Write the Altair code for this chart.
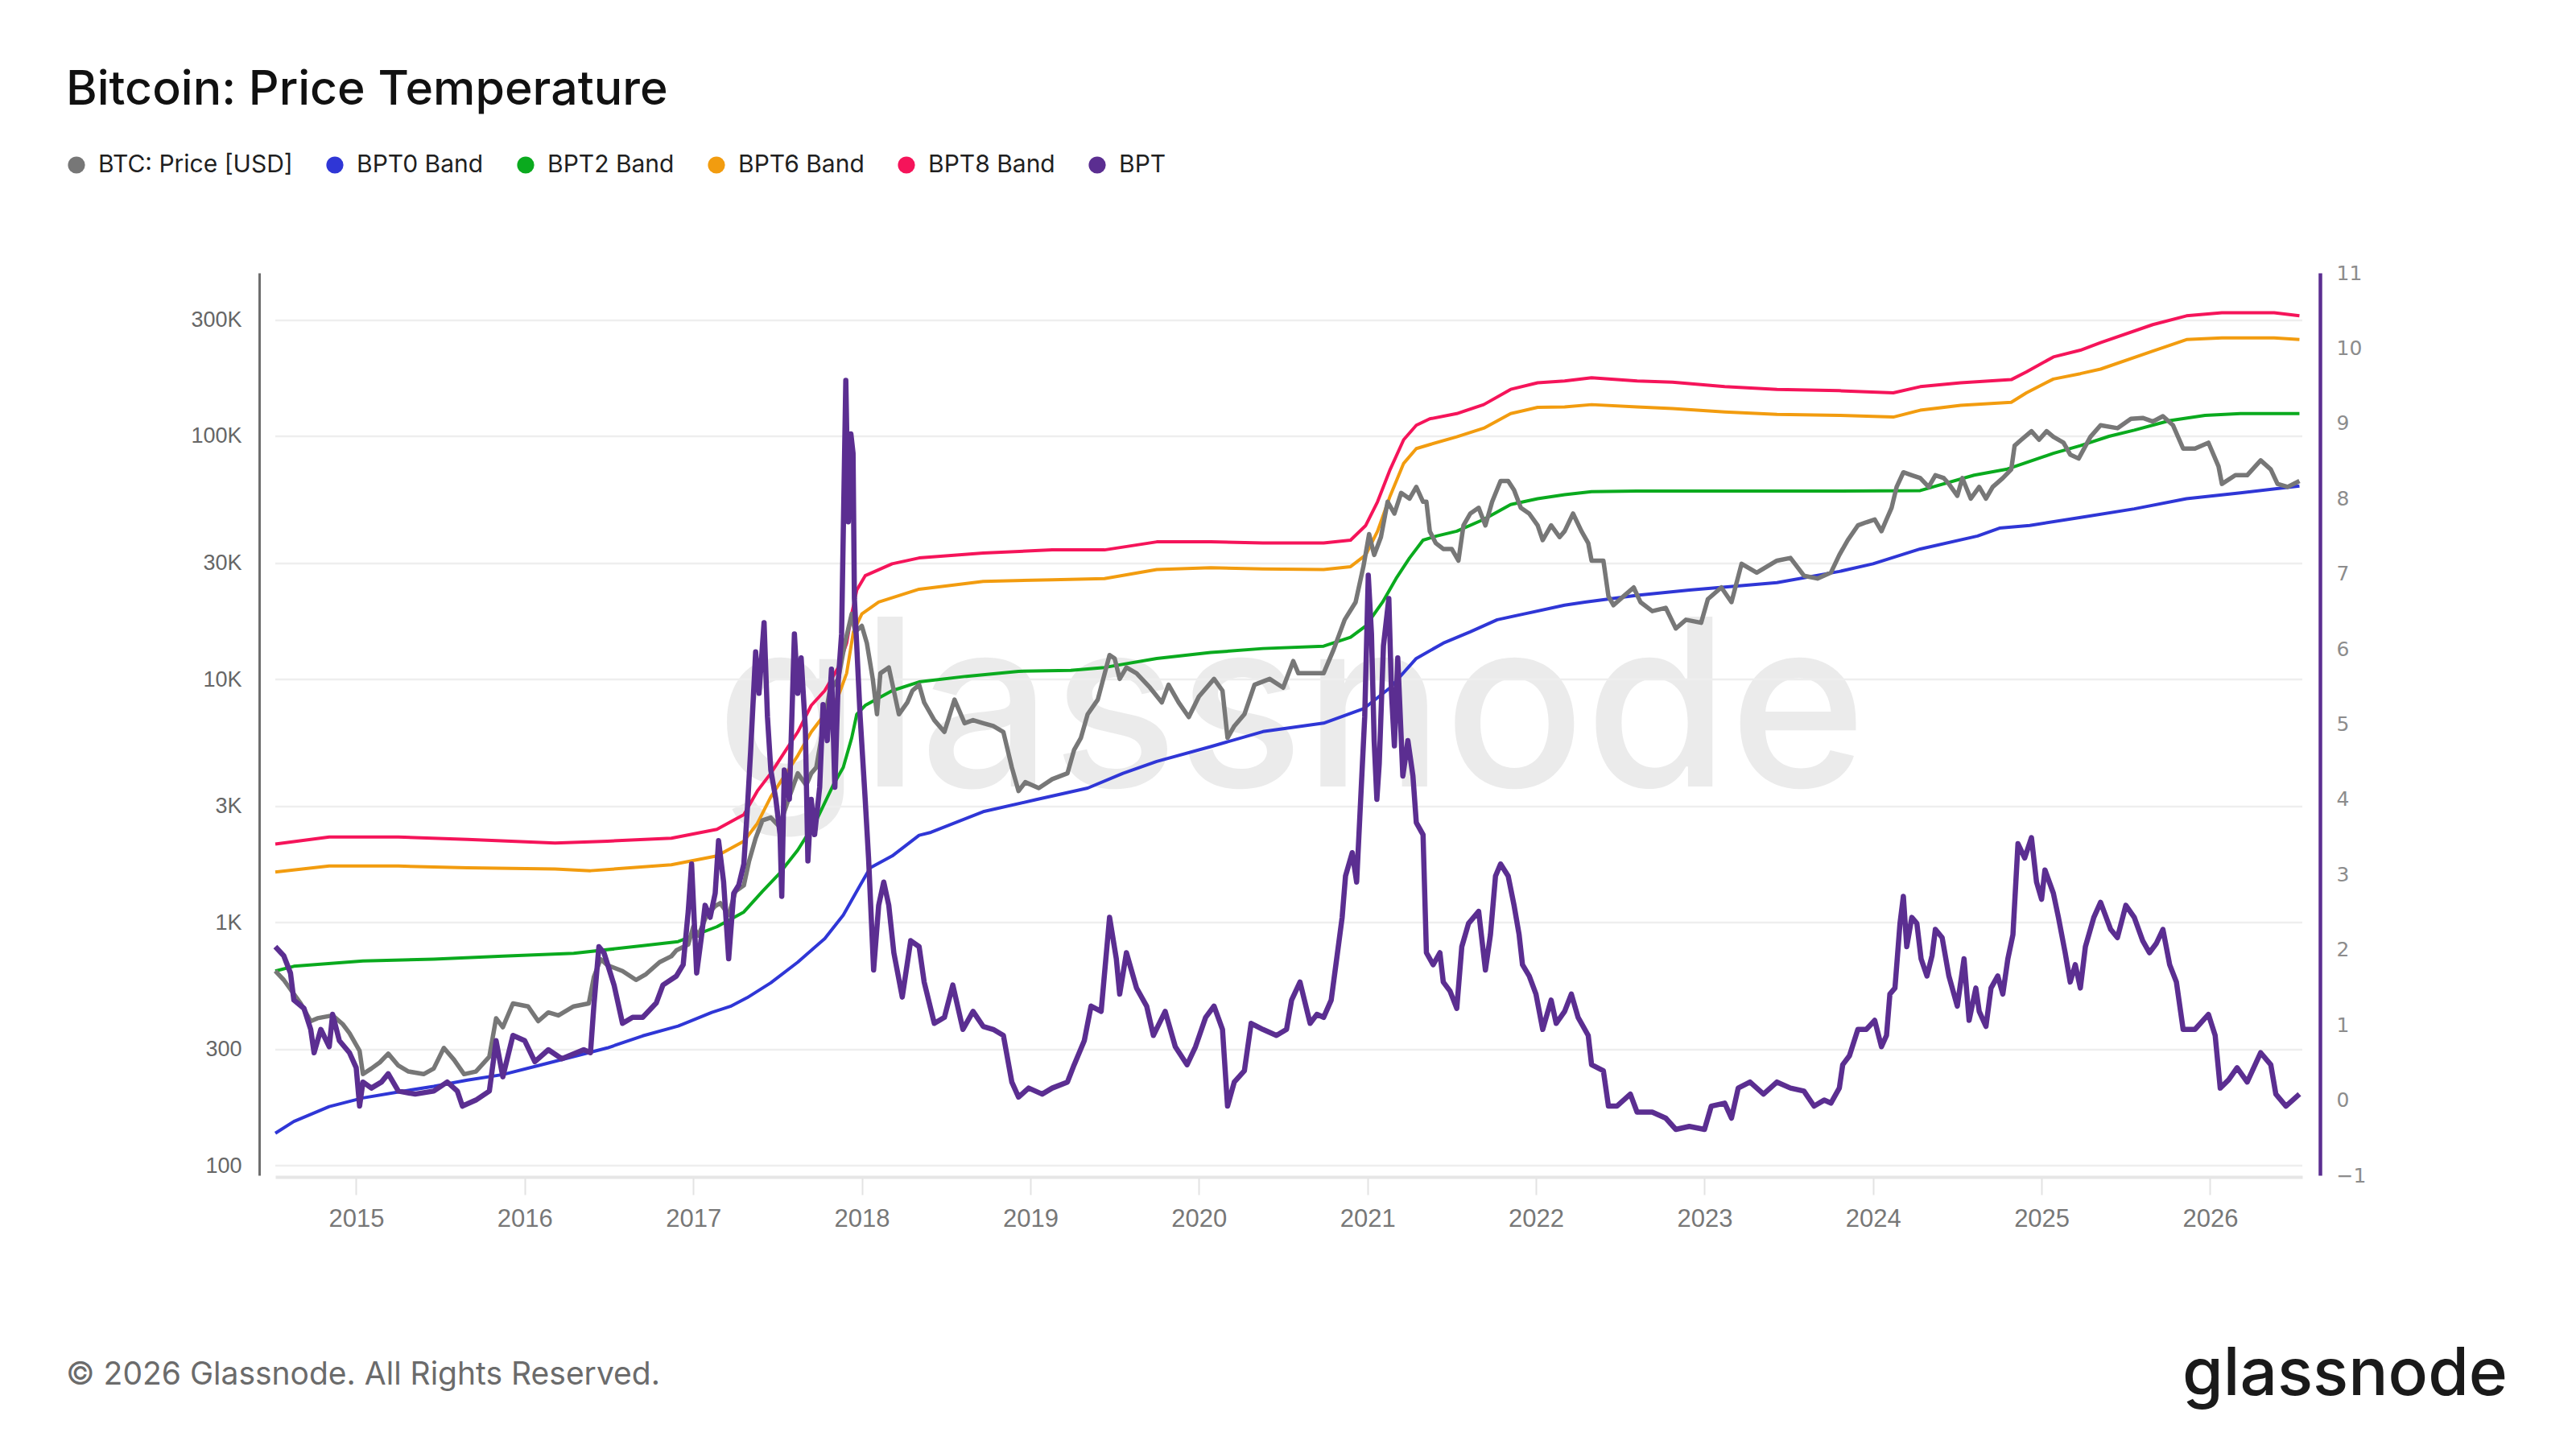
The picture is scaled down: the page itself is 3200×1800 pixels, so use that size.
import altair as alt
import pandas as pd

# ---------------- data ----------------
series_names = ["BTC: Price [USD]", "BPT0 Band", "BPT2 Band", "BPT6 Band", "BPT8 Band", "BPT"]
series_colors = ["#777777", "#2f36d6", "#0aaa1e", "#f29c0f", "#f5145a", "#5b2e91"]

# (decimal year, value) readings
band0_pts = [(2014.52, 136), (2014.63, 152), (2014.84, 175), (2015.04, 190), (2015.25, 201), (2015.46, 212),
             (2015.66, 225), (2015.87, 237), (2016.08, 258), (2016.29, 281), (2016.49, 305), (2016.70, 342),
             (2016.91, 375), (2017.11, 427), (2017.22, 452), (2017.32, 491), (2017.46, 565), (2017.62, 687),
             (2017.78, 859), (2017.89, 1074), (2017.99, 1422), (2018.05, 1679), (2018.18, 1879), (2018.34, 2286),
             (2018.41, 2350), (2018.72, 2858), (2019.03, 3198), (2019.34, 3573), (2019.55, 4111), (2019.75, 4600),
             (2020.07, 5290), (2020.38, 6100), (2020.74, 6610), (2020.98, 7600), (2021.135, 9250), (2021.29, 12200),
             (2021.45, 14100), (2021.61, 15700), (2021.77, 17600), (2021.93, 18600), (2022.17, 20200),
             (2022.29, 20800), (2022.60, 22200), (2022.91, 23300), (2023.22, 24300), (2023.43, 25000),
             (2023.80, 27800), (2024.00, 29900), (2024.28, 34400), (2024.62, 38900), (2024.75, 41900),
             (2024.93, 43000), (2025.24, 46500), (2025.55, 50300), (2025.86, 55400), (2026.18, 58500),
             (2026.53, 62500)]

band2_pts = [(2014.52, 632), (2014.63, 661), (2015.04, 695), (2015.46, 707), (2015.87, 727), (2016.29, 747),
             (2016.70, 803), (2016.91, 835), (2017.14, 961), (2017.30, 1105), (2017.41, 1343), (2017.51, 1589),
             (2017.62, 1987), (2017.73, 2630), (2017.83, 3675), (2017.89, 4350), (2017.94, 5750), (2017.97, 7190),
             (2018.02, 7820), (2018.18, 8990), (2018.34, 9770), (2018.62, 10300), (2018.93, 10800),
             (2019.24, 10900), (2019.44, 11200), (2019.75, 12200), (2020.07, 12900), (2020.38, 13400),
             (2020.74, 13700), (2020.90, 14900), (2020.99, 16600), (2021.09, 20800), (2021.17, 26000),
             (2021.25, 31600), (2021.33, 37400), (2021.41, 38900), (2021.53, 40700), (2021.69, 45500),
             (2021.85, 52400), (2022.01, 55400), (2022.17, 57500), (2022.33, 59200), (2022.60, 59500),
             (2023.02, 59500), (2023.43, 59500), (2023.80, 59500), (2024.28, 59800), (2024.60, 69200),
             (2024.79, 73100), (2025.07, 85100), (2025.23, 91500), (2025.40, 100000), (2025.55, 106000),
             (2025.76, 116000), (2025.97, 122000), (2026.18, 124000), (2026.53, 124000)]

band6_pts = [(2014.52, 1614), (2014.84, 1708), (2015.25, 1708), (2015.66, 1679), (2016.18, 1662), (2016.39, 1634),
             (2016.87, 1728), (2017.14, 1879), (2017.30, 2161), (2017.38, 2556), (2017.46, 3290), (2017.54, 4000),
             (2017.62, 4863), (2017.70, 6080), (2017.78, 7190), (2017.86, 8510), (2017.91, 10600), (2017.95, 15700),
             (2018.00, 18600), (2018.10, 20800), (2018.34, 23500), (2018.72, 25300), (2019.13, 25700),
             (2019.44, 26000), (2019.75, 28300), (2020.07, 28800), (2020.38, 28500), (2020.74, 28300),
             (2020.90, 29100), (2020.99, 32500), (2021.06, 40700), (2021.135, 56900), (2021.215, 77400),
             (2021.29, 89000), (2021.37, 92500), (2021.53, 99500), (2021.69, 108000), (2021.85, 124000),
             (2022.01, 131500), (2022.17, 132000), (2022.33, 135000), (2022.60, 132000), (2022.81, 130000),
             (2023.12, 126000), (2023.43, 123000), (2023.80, 122000), (2024.12, 120000), (2024.28, 128000),
             (2024.52, 134000), (2024.82, 138000), (2024.91, 151000), (2025.07, 172000), (2025.23, 181000),
             (2025.35, 189000), (2025.66, 224000), (2025.86, 250000), (2026.07, 254000), (2026.38, 254000),
             (2026.53, 250000)]

band8_pts = [(2014.52, 2102), (2014.84, 2249), (2015.25, 2249), (2015.66, 2198), (2016.18, 2125), (2016.49, 2161),
             (2016.87, 2223), (2017.14, 2418), (2017.30, 2780), (2017.38, 3475), (2017.46, 4110), (2017.54, 5000),
             (2017.62, 6080), (2017.70, 7820), (2017.78, 8990), (2017.86, 11200), (2017.91, 14100),
             (2017.94, 18600), (2017.97, 23300), (2018.02, 26700), (2018.18, 29900), (2018.34, 31600),
             (2018.72, 33100), (2019.13, 34100), (2019.44, 34100), (2019.75, 36800), (2020.07, 36800),
             (2020.38, 36400), (2020.74, 36400), (2020.90, 37400), (2020.99, 43000), (2021.06, 53800),
             (2021.135, 73100), (2021.215, 96800), (2021.29, 111000), (2021.37, 118000), (2021.53, 124000),
             (2021.69, 135000), (2021.85, 156000), (2022.01, 166000), (2022.17, 169000), (2022.33, 174000),
             (2022.60, 169000), (2022.81, 167000), (2023.12, 160000), (2023.43, 156000), (2023.80, 154000),
             (2024.12, 151000), (2024.28, 160000), (2024.52, 166000), (2024.82, 171000), (2024.91, 184000),
             (2025.07, 212000), (2025.23, 226000), (2025.35, 243000), (2025.66, 288000), (2025.86, 313000),
             (2026.07, 322000), (2026.38, 322000), (2026.53, 313000)]

price_pts = [(2014.52, 632), (2014.57, 581), (2014.67, 465), (2014.73, 393), (2014.77, 404), (2014.86, 415),
             (2014.92, 382), (2014.96, 351), (2015.02, 297), (2015.04, 238), (2015.09, 251), (2015.14, 266),
             (2015.19, 289), (2015.25, 258), (2015.31, 244), (2015.40, 238), (2015.46, 251), (2015.52, 305),
             (2015.58, 273), (2015.64, 238), (2015.71, 244), (2015.79, 281), (2015.83, 404), (2015.87, 371),
             (2015.93, 465), (2016.02, 452), (2016.08, 393), (2016.14, 427), (2016.20, 415), (2016.29, 452),
             (2016.38, 465), (2016.41, 597), (2016.45, 707), (2016.49, 668), (2016.58, 632), (2016.66, 581),
             (2016.72, 614), (2016.80, 687), (2016.87, 727), (2016.90, 769), (2016.97, 813), (2017.00, 961),
             (2017.03, 884), (2017.08, 1074), (2017.13, 1169), (2017.16, 1202), (2017.21, 1074), (2017.25, 1343),
             (2017.30, 1422), (2017.33, 1778), (2017.37, 2223), (2017.41, 2630), (2017.46, 2703), (2017.51, 2485),
             (2017.57, 3290), (2017.62, 4110), (2017.67, 3675), (2017.70, 4110), (2017.73, 4350), (2017.76, 5750),
             (2017.81, 8990), (2017.86, 10050), (2017.90, 14100), (2017.94, 18600), (2017.96, 15700),
             (2018.00, 16600), (2018.03, 14100), (2018.065, 10050), (2018.09, 7190), (2018.11, 10600),
             (2018.16, 11200), (2018.19, 8990), (2018.22, 7190), (2018.27, 8040), (2018.30, 8990), (2018.34, 9510),
             (2018.37, 8040), (2018.43, 6800), (2018.49, 6080), (2018.55, 8260), (2018.61, 6610), (2018.66, 6800),
             (2018.72, 6610), (2018.78, 6430), (2018.84, 6080), (2018.89, 4350), (2018.93, 3475), (2018.97, 3780),
             (2019.05, 3575), (2019.13, 3890), (2019.22, 4110), (2019.26, 5140), (2019.30, 5750), (2019.34, 7190),
             (2019.40, 8260), (2019.47, 12600), (2019.50, 12200), (2019.53, 10050), (2019.57, 11200),
             (2019.63, 10600), (2019.71, 9250), (2019.78, 8040), (2019.82, 9510), (2019.88, 8040), (2019.94, 7000),
             (2020.00, 8500), (2020.09, 10050), (2020.14, 8990), (2020.17, 5750), (2020.21, 6430), (2020.27, 7190),
             (2020.33, 9510), (2020.42, 10050), (2020.50, 9250), (2020.56, 11900), (2020.59, 10600),
             (2020.66, 10600), (2020.74, 10600), (2020.80, 13300), (2020.865, 17600), (2020.93, 20800),
             (2020.976, 29100), (2021.01, 39600), (2021.04, 32500), (2021.08, 38500), (2021.12, 53800),
             (2021.16, 48100), (2021.20, 58500), (2021.25, 55400), (2021.29, 61900), (2021.33, 53800),
             (2021.35, 53800), (2021.37, 40700), (2021.405, 36400), (2021.45, 34400), (2021.50, 34400),
             (2021.54, 30800), (2021.57, 43000), (2021.61, 48100), (2021.66, 50800), (2021.70, 43000),
             (2021.74, 53800), (2021.79, 65500), (2021.835, 65500), (2021.87, 60100), (2021.91, 50800),
             (2021.96, 48100), (2022.01, 43000), (2022.04, 37400), (2022.09, 43000), (2022.14, 38500),
             (2022.17, 40700), (2022.22, 48100), (2022.27, 40700), (2022.31, 36400), (2022.33, 30800),
             (2022.40, 30800), (2022.43, 22000), (2022.46, 20200), (2022.52, 22000), (2022.58, 23900),
             (2022.62, 20800), (2022.69, 19100), (2022.77, 19700), (2022.83, 16200), (2022.89, 17600),
             (2022.98, 17100), (2023.02, 21400), (2023.10, 23900), (2023.16, 20800), (2023.22, 29900),
             (2023.31, 27500), (2023.43, 30800), (2023.51, 31600), (2023.59, 26700), (2023.67, 26000),
             (2023.75, 27500), (2023.80, 32500), (2023.85, 37400), (2023.91, 43000), (2023.96, 44300),
             (2024.01, 45500), (2024.05, 40700), (2024.08, 45500), (2024.11, 50800), (2024.14, 61900),
             (2024.18, 71100), (2024.23, 69200), (2024.28, 67300), (2024.33, 61900), (2024.37, 69200),
             (2024.42, 67300), (2024.45, 63700), (2024.50, 56900), (2024.53, 67300), (2024.58, 55400),
             (2024.63, 61900), (2024.67, 55400), (2024.71, 61900), (2024.77, 67300), (2024.82, 73100),
             (2024.84, 91500), (2024.88, 96800), (2024.94, 105000), (2024.985, 96800), (2025.03, 105000),
             (2025.07, 99500), (2025.13, 94200), (2025.17, 84100), (2025.22, 81000), (2025.29, 99500),
             (2025.35, 111000), (2025.45, 108000), (2025.53, 118000), (2025.60, 119000), (2025.66, 115000),
             (2025.72, 121000), (2025.78, 111000), (2025.84, 89000), (2025.91, 89000), (2025.99, 94100),
             (2026.05, 75200), (2026.07, 63700), (2026.15, 69200), (2026.22, 69200), (2026.30, 79600),
             (2026.36, 73100), (2026.40, 63700), (2026.46, 61900), (2026.53, 65500)]

bpt_pts = [(2014.52, 2.04), (2014.57, 1.92), (2014.61, 1.69), (2014.63, 1.33), (2014.69, 1.22), (2014.73, 0.94),
           (2014.75, 0.63), (2014.79, 0.94), (2014.84, 0.71), (2014.86, 1.14), (2014.90, 0.79), (2014.96, 0.63),
           (2015.00, 0.43), (2015.02, -0.08), (2015.04, 0.24), (2015.09, 0.16), (2015.15, 0.24), (2015.19, 0.35),
           (2015.25, 0.12), (2015.35, 0.08), (2015.46, 0.12), (2015.54, 0.24), (2015.60, 0.12), (2015.63, -0.08),
           (2015.71, 0.00), (2015.79, 0.12), (2015.83, 0.79), (2015.87, 0.31), (2015.93, 0.86), (2016.00, 0.79),
           (2016.06, 0.51), (2016.14, 0.67), (2016.22, 0.55), (2016.35, 0.67), (2016.39, 0.63), (2016.41, 1.25),
           (2016.44, 2.04), (2016.47, 1.96), (2016.53, 1.53), (2016.58, 1.02), (2016.64, 1.10), (2016.70, 1.10),
           (2016.78, 1.29), (2016.82, 1.53), (2016.90, 1.65), (2016.94, 1.80), (2016.97, 2.51), (2016.99, 3.14),
           (2017.02, 1.69), (2017.05, 2.20), (2017.07, 2.59), (2017.10, 2.43), (2017.13, 2.75), (2017.15, 3.45),
           (2017.18, 2.90), (2017.21, 1.88), (2017.24, 2.75), (2017.27, 2.86), (2017.30, 3.14), (2017.32, 3.84),
           (2017.34, 4.63), (2017.37, 5.96), (2017.39, 5.41), (2017.42, 6.35), (2017.44, 5.10), (2017.46, 4.39),
           (2017.49, 4.00), (2017.515, 3.53), (2017.525, 2.71), (2017.54, 4.39), (2017.57, 4.00), (2017.60, 6.20),
           (2017.62, 5.41), (2017.64, 5.88), (2017.665, 4.94), (2017.68, 3.18), (2017.70, 4.00), (2017.72, 3.53),
           (2017.75, 4.16), (2017.77, 5.26), (2017.795, 4.78), (2017.82, 5.73), (2017.84, 4.16), (2017.86, 5.57),
           (2017.88, 6.20), (2017.905, 9.57), (2017.92, 7.69), (2017.935, 8.86), (2017.948, 8.60),
           (2017.956, 6.67), (2017.97, 6.04), (2017.99, 5.10), (2018.02, 4.00), (2018.04, 3.22), (2018.07, 1.73),
           (2018.10, 2.59), (2018.13, 2.90), (2018.16, 2.59), (2018.19, 1.96), (2018.24, 1.37), (2018.29, 2.12),
           (2018.34, 2.04), (2018.37, 1.57), (2018.43, 1.02), (2018.49, 1.10), (2018.54, 1.53), (2018.60, 0.94),
           (2018.66, 1.18), (2018.72, 0.98), (2018.78, 0.94), (2018.84, 0.86), (2018.89, 0.24), (2018.93, 0.04),
           (2018.99, 0.16), (2019.07, 0.08), (2019.13, 0.16), (2019.22, 0.24), (2019.26, 0.47), (2019.32, 0.79),
           (2019.36, 1.25), (2019.42, 1.18), (2019.47, 2.43), (2019.51, 1.88), (2019.53, 1.41), (2019.57, 1.96),
           (2019.63, 1.49), (2019.69, 1.25), (2019.73, 0.86), (2019.80, 1.18), (2019.86, 0.71), (2019.93, 0.47),
           (2019.98, 0.71), (2020.04, 1.10), (2020.09, 1.25), (2020.14, 0.94), (2020.17, -0.08), (2020.21, 0.24),
           (2020.27, 0.39), (2020.31, 1.02), (2020.38, 0.94), (2020.46, 0.86), (2020.52, 0.94), (2020.55, 1.33),
           (2020.60, 1.57), (2020.66, 1.02), (2020.70, 1.14), (2020.74, 1.10), (2020.785, 1.33), (2020.82, 1.92),
           (2020.85, 2.43), (2020.87, 2.98), (2020.91, 3.29), (2020.936, 2.90), (2020.96, 4.00), (2020.984, 5.10),
           (2021.005, 6.98), (2021.024, 6.20), (2021.04, 4.78), (2021.056, 4.00), (2021.07, 4.47),
           (2021.095, 6.04), (2021.127, 6.67), (2021.143, 5.41), (2021.16, 4.71), (2021.18, 5.88), (2021.21, 4.31),
           (2021.24, 4.78), (2021.27, 4.31), (2021.29, 3.69), (2021.33, 3.53), (2021.35, 1.96), (2021.39, 1.80),
           (2021.43, 1.96), (2021.45, 1.57), (2021.49, 1.45), (2021.53, 1.22), (2021.56, 2.04), (2021.60, 2.35),
           (2021.66, 2.51), (2021.70, 1.73), (2021.73, 2.20), (2021.76, 2.98), (2021.79, 3.14), (2021.835, 2.98),
           (2021.87, 2.59), (2021.90, 2.20), (2021.92, 1.80), (2021.96, 1.65), (2022.00, 1.41), (2022.04, 0.94),
           (2022.09, 1.33), (2022.12, 1.02), (2022.17, 1.18), (2022.21, 1.41), (2022.25, 1.10), (2022.31, 0.86),
           (2022.33, 0.47), (2022.40, 0.39), (2022.43, -0.08), (2022.48, -0.08), (2022.56, 0.08), (2022.60, -0.16),
           (2022.69, -0.16), (2022.77, -0.24), (2022.83, -0.39), (2022.91, -0.35), (2023.00, -0.39),
           (2023.04, -0.08), (2023.12, -0.04), (2023.16, -0.24), (2023.20, 0.16), (2023.27, 0.24), (2023.35, 0.08),
           (2023.43, 0.24), (2023.51, 0.16), (2023.59, 0.12), (2023.65, -0.08), (2023.71, 0.00), (2023.75, -0.04),
           (2023.80, 0.16), (2023.82, 0.47), (2023.86, 0.59), (2023.91, 0.94), (2023.96, 0.94), (2024.01, 1.06),
           (2024.05, 0.71), (2024.08, 0.86), (2024.10, 1.41), (2024.13, 1.49), (2024.16, 2.35), (2024.18, 2.71),
           (2024.20, 2.04), (2024.23, 2.43), (2024.26, 2.35), (2024.285, 1.88), (2024.32, 1.65), (2024.35, 1.92),
           (2024.37, 2.27), (2024.41, 2.16), (2024.45, 1.65), (2024.50, 1.25), (2024.54, 1.88), (2024.57, 1.06),
           (2024.61, 1.49), (2024.63, 1.18), (2024.67, 0.98), (2024.70, 1.49), (2024.74, 1.65), (2024.77, 1.41),
           (2024.80, 1.88), (2024.83, 2.20), (2024.86, 3.41), (2024.90, 3.22), (2024.94, 3.49), (2024.97, 2.90),
           (2025.00, 2.67), (2025.02, 3.06), (2025.07, 2.75), (2025.10, 2.43), (2025.14, 1.96), (2025.17, 1.57),
           (2025.20, 1.80), (2025.23, 1.49), (2025.26, 2.04), (2025.31, 2.43), (2025.35, 2.63), (2025.41, 2.27),
           (2025.45, 2.16), (2025.50, 2.59), (2025.55, 2.43), (2025.60, 2.12), (2025.64, 1.96), (2025.68, 2.08),
           (2025.72, 2.27), (2025.76, 1.80), (2025.80, 1.57), (2025.84, 0.94), (2025.91, 0.94), (2025.99, 1.14),
           (2026.03, 0.86), (2026.06, 0.16), (2026.11, 0.27), (2026.16, 0.43), (2026.22, 0.24), (2026.30, 0.63),
           (2026.36, 0.47), (2026.39, 0.08), (2026.45, -0.08), (2026.53, 0.08)]

left_ticks = [100, 300, 1000, 3000, 10000, 30000, 100000, 300000]
right_ticks = list(range(-1, 12))
year_ticks = list(range(2015, 2027))

# ---------------- layout constants ----------------
W, H = 2518, 1121
X_DOMAIN = [2014.52, 2026.547]
FONT = "Inter"


def frame(pts, name):
    return pd.DataFrame({"year": [p[0] for p in pts], "value": [p[1] for p in pts], "series": name})


price_df = frame(price_pts, series_names[0])
b0_df = frame(band0_pts, series_names[1])
b2_df = frame(band2_pts, series_names[2])
b6_df = frame(band6_pts, series_names[3])
b8_df = frame(band8_pts, series_names[4])
bpt_df = frame(bpt_pts, series_names[5])
left_df = pd.concat([b0_df, b2_df, b6_df, b8_df, price_df], ignore_index=True)

xscale = alt.Scale(domain=X_DOMAIN, nice=False, zero=False)
yleft = alt.Scale(type="log", domain=[91.3, 470000], nice=False)
yright = alt.Scale(domain=[-1, 11], nice=False, zero=False)

x_axis = alt.Axis(values=year_ticks, format="d", title=None, grid=False,
                  domainColor="#e6e6e6", domainWidth=4, tickColor="#e3e3e3",
                  tickWidth=2, tickSize=22, labelFont="Liberation Sans",
                  labelFontSize=31, labelColor="#777777", labelPadding=15, offset=2)

left_axis = alt.Axis(values=left_ticks, title=None, grid=False, ticks=False, tickSize=0,
                     domainColor="#6e6e6e", domainWidth=3, offset=20, labelPadding=22,
                     labelFont="Liberation Sans", labelFontSize=27, labelColor="#666666",
                     labelExpr="datum.value >= 1000 ? format(datum.value / 1000, 'd') + 'K' : format(datum.value, 'd')")

right_axis = alt.Axis(orient="right", values=right_ticks, title=None, grid=False, ticks=False,
                      tickSize=0, domainColor="#5b2e91", domainWidth=4.5, offset=22,
                      labelPadding=20, labelFont="DejaVu Sans", labelFontSize=25,
                      labelColor="#8c8c8c")

X = alt.X("year:Q", scale=xscale, axis=x_axis)
YL = alt.Y("value:Q", scale=yleft, axis=left_axis)

# watermark
wm = alt.Chart(pd.DataFrame({"t": ["glassnode"]})).mark_text(
    font=FONT, fontSize=290, fontWeight=500, color="#000000", opacity=0.075,
    align="center", baseline="alphabetic"
).encode(x=alt.value(1262), y=alt.value(638), text="t:N")

# horizontal gridlines of the price axis
grid = alt.Chart(pd.DataFrame({"value": left_ticks})).mark_rule(
    color="#eeeeee", strokeWidth=2.5
).encode(y=YL)


def line(df, color, width):
    return alt.Chart(df).mark_line(color=color, strokeWidth=width, strokeJoin="round").encode(x=X, y=YL)


bands = [line(b8_df, series_colors[4], 4), line(b6_df, series_colors[3], 4),
         line(b2_df, series_colors[2], 4), line(b0_df, series_colors[1], 4)]
price = line(price_df, series_colors[0], 5.5)

# invisible points carry the legend
legend_layer = alt.Chart(left_df).mark_circle(opacity=0, size=1).encode(
    x=X, y=YL,
    color=alt.Color("series:N", scale=alt.Scale(domain=series_names, range=series_colors),
                    legend=alt.Legend(orient="none", legendX=-262, legendY=-149,
                                      direction="horizontal", title=None,
                                      labelFont=FONT, labelFontSize=30, labelColor="#1f1f1f",
                                      symbolType="circle", symbolSize=450, symbolOpacity=1,
                                      symbolStrokeWidth=0, labelOffset=12, columnPadding=37,
                                      padding=0, labelLimit=1000)))

left_group = alt.layer(grid, *bands, price, legend_layer)

bpt = alt.Chart(bpt_df).mark_line(color=series_colors[5], strokeWidth=6.5, strokeJoin="round").encode(
    x=X, y=alt.Y("value:Q", scale=yright, axis=right_axis))

title = alt.Chart(pd.DataFrame({"t": ["Bitcoin: Price Temperature"]})).mark_text(
    font=FONT, fontSize=59, fontWeight=500, color="#111111", align="left", baseline="alphabetic"
).encode(x=alt.value(-260), y=alt.value(-209), text="t:N")

footer = alt.Chart(pd.DataFrame({"t": ["© 2026 Glassnode. All Rights Reserved."]})).mark_text(
    font=FONT, fontSize=39, color="#6b6b6b", align="left", baseline="alphabetic"
).encode(x=alt.value(-260), y=alt.value(1381), text="t:N")

logo = alt.Chart(pd.DataFrame({"t": ["glassnode"]})).mark_text(
    font=FONT, fontSize=82, fontWeight=500, color="#1a1a1a", align="right", baseline="alphabetic"
).encode(x=alt.value(2773), y=alt.value(1394), text="t:N")

chart = alt.layer(wm, left_group, bpt, title, footer, logo).resolve_scale(
    y="independent"
).properties(
    width=W, height=H,
    autosize=alt.AutoSizeParams(type="none"),
    padding={"left": 334, "top": 331, "right": 300, "bottom": 300},
    background="#ffffff",
).configure_view(stroke=None)

chart.save("out.html", embed_options={"renderer": "svg", "actions": False})
